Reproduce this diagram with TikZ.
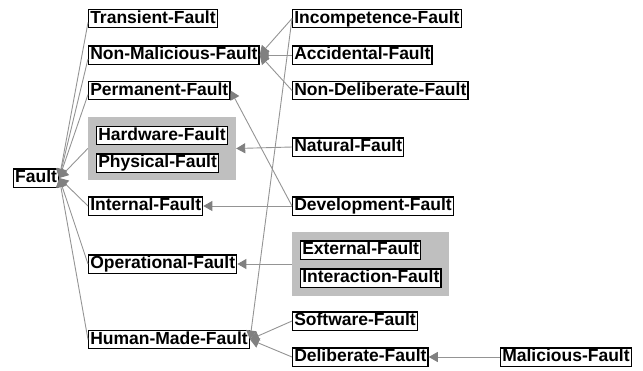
\documentclass[tikz,border=0pt]{standalone}
\usepackage{fontspec}
\setmainfont{Liberation Sans}
\usetikzlibrary{arrows.meta}
\begin{document}
\begin{tikzpicture}[x=1pt,y=-1pt,
  fbox/.style={draw=black, line width=1.3pt, fill=white, anchor=west,
    font=\fontsize{17.5}{20}\selectfont\bfseries, inner xsep=1.6pt, inner ysep=0pt,
    text height=14pt, text depth=4.3pt},
  grp/.style={fill=black!25, draw=none, inner sep=0pt},
  conn/.style={draw=black!42, line width=0.9pt,
    -{Triangle[length=9pt,width=10pt,color=black!50]}}]
\useasboundingbox (0,0) rectangle (643,370);
% groups
\node[grp, minimum width=148pt, minimum height=63pt] (g1) at (162,148.5) {};
\node[grp, minimum width=157pt, minimum height=64pt] (g2) at (370.5,264) {};
% left column
\node[fbox] (fault) at (13,178) {Fault};
\node[fbox] (trans) at (88,18.5) {Transient-Fault};
\node[fbox] (nonmal) at (88,55) {Non-Malicious-Fault};
\node[fbox] (perm) at (88,90.5) {Permanent-Fault};
\node[fbox] (hw) at (96,135.5) {Hardware-Fault};
\node[fbox] (phys) at (96,163) {Physical-Fault};
\node[fbox] (int) at (88,206) {Internal-Fault};
\node[fbox] (oper) at (88,264) {Operational-Fault};
\node[fbox] (human) at (88,339.5) {Human-Made-Fault};
% right column
\node[fbox] (incomp) at (292,18.5) {Incompetence-Fault};
\node[fbox] (acc) at (292,55) {Accidental-Fault};
\node[fbox] (nondel) at (292,90.5) {Non-Deliberate-Fault};
\node[fbox] (nat) at (292,147) {Natural-Fault};
\node[fbox] (dev) at (292,206) {Development-Fault};
\node[fbox] (ext) at (300,250) {External-Fault};
\node[fbox] (inter) at (300,278) {Interaction-Fault};
\node[fbox] (soft) at (292,321) {Software-Fault};
\node[fbox] (del) at (292,357) {Deliberate-Fault};
\node[fbox] (mal) at (500,357) {Malicious-Fault};
% connectors to Fault
\draw[conn] ([yshift=-4pt]trans.west) -- (fault.east);
\draw[conn] ([yshift=-4pt]nonmal.west) -- (fault.east);
\draw[conn] ([yshift=-4pt]perm.west) -- (fault.east);
\foreach \c in {g1,int,oper,human}
  \draw[conn] (\c.west) -- (fault.east);
% Non-Malicious
\foreach \c in {incomp,acc,nondel}
  \draw[conn] (\c.west) -- (nonmal.east);
% Human-Made
\foreach \c in {incomp,soft,del}
  \draw[conn] (\c.west) -- (human.east);
\draw[conn] (dev.west) -- (perm.east);
\draw[conn] (dev.west) -- (int.east);
\draw[conn] (nat.west) -- (g1.east);
\draw[conn] (g2.west) -- (oper.east);
\draw[conn] (mal.west) -- (del.east);
\end{tikzpicture}
\end{document}
